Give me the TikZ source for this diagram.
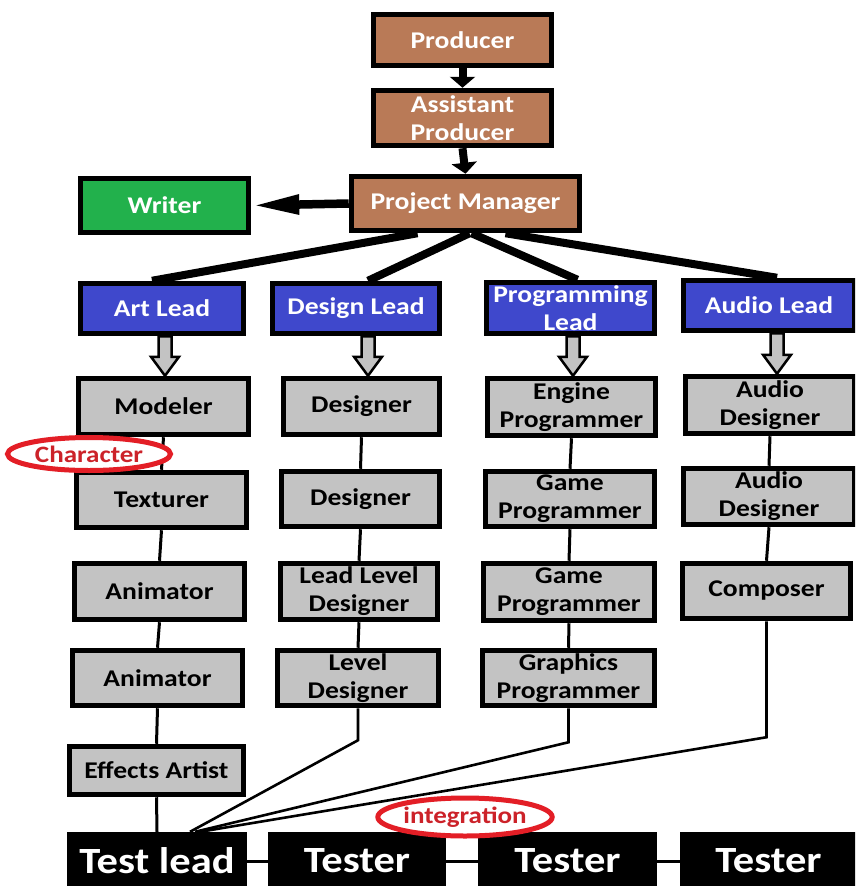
\documentclass[tikz,border=0pt]{standalone}
\usepackage{fontspec}
\setmainfont{Carlito}[FakeStretch=1.15]
\usetikzlibrary{arrows.meta,shapes.geometric,backgrounds,calc}

\definecolor{mgmtbrown}{HTML}{B97A57}
\definecolor{writergreen}{HTML}{22B14C}
\definecolor{leadblue}{HTML}{3F48CC}
\definecolor{staffgray}{HTML}{C3C3C3}
\definecolor{notered}{HTML}{E31E26}
\definecolor{notetext}{HTML}{CC2229}

% gray block arrow from a lead down to the first member of its team
\newcommand\leadarrow[3]{%
  \draw[blockarrow] let \p1=(#1.south), \p2=(#2.north) in
    (\x2+#3pt-6.5pt,\y1) -- (\x2+#3pt-6.5pt,\y2+19pt) -- (\x2+#3pt-14pt,\y2+19pt)
    -- (\x2+#3pt,\y2) -- (\x2+#3pt+14pt,\y2+19pt) -- (\x2+#3pt+6.5pt,\y2+19pt)
    -- (\x2+#3pt+6.5pt,\y1) -- cycle;}

\begin{document}
\begin{tikzpicture}[x=1pt,y=-1pt,
  sz/.style 2 args={minimum width=#1pt, minimum height=#2pt},
  box/.style={draw=black, line width=5.5pt, align=center, inner sep=0pt,
    font=\fontsize{24}{28}\selectfont\bfseries},
  mgmt/.style={box, fill=mgmtbrown, text=white},
  writerbox/.style={box, fill=writergreen, text=white},
  lead/.style={box, fill=leadblue, text=white},
  staff/.style={box, fill=staffgray, text=black},
  testbox/.style={fill=black, text=white, inner sep=0pt, minimum height=58pt,
    font=\fontsize{37}{40}\selectfont\bfseries},
  note/.style={ellipse, draw=notered, line width=5pt, fill=white, text=notetext,
    inner sep=0pt, font=\fontsize{23.5}{25}\selectfont\bfseries},
  thinlink/.style={line width=3pt},
  difflink/.style={line width=2.6pt},
  fanlink/.style={line width=8pt},
  fatarrow/.style={line width=8pt, -{Triangle[length=11pt,width=25pt]}},
  writerarrow/.style={line width=8.5pt, -{Triangle[length=48pt,width=18pt]}},
  blockarrow/.style={draw=black, fill=staffgray, line width=2.5pt, line join=miter}
]
\useasboundingbox (0,0) rectangle (855,886);
\clip (0,0) rectangle (855,886);

% management
\node[mgmt, sz={178}{51}] (prod) at (462.5,40) {Producer};
\node[mgmt, sz={178}{55}] (ap) at (462.5,118) {Assistant\\Producer};
\node[mgmt, sz={228}{54}] (pm) at (465.5,203.5) {Project Manager};
\node[writerbox, sz={168}{54}] (wr) at (164.5,205.5) {Writer};

% leads
\node[lead, sz={163}{50}] (art) at (162,308.5) {Art Lead};
\node[lead, sz={167}{50}] (des) at (356,308.5) {Design Lead};
\node[lead, sz={168}{51}] (prg) at (570.5,308) {Programming\\Lead};
\node[lead, sz={171}{50}] (aud) at (769,305.5) {Audio Lead};

% art team
\node[staff, sz={170}{56}] (mod) at (163.5,406.5) {Modeler};
\node[staff, sz={170}{55}] (tex) at (161.5,500) {Texturer};
\node[staff, sz={170}{56}] (ani1) at (159.5,591.5) {Animator};
\node[staff, sz={170}{55}] (ani2) at (157.5,678) {Animator};
\node[staff, sz={174}{48}] (fx) at (156.5,770.5) {Effects Artist};

% design team
\node[staff, sz={156}{56}] (dsg1) at (361.5,406.5) {Designer};
\node[staff, sz={158}{55}] (dsg2) at (360.5,499) {Designer};
\node[staff, sz={157}{56}] (lld) at (359,591.5) {Lead Level\\Designer};
\node[staff, sz={161}{55}] (lvl) at (358,678) {Level\\Designer};

% programming team
\node[staff, sz={168}{57}] (eng) at (571.5,407) {Engine\\Programmer};
\node[staff, sz={169}{55}] (gp1) at (570,499) {Game\\Programmer};
\node[staff, sz={171}{57}] (gp2) at (569,592) {Game\\Programmer};
\node[staff, sz={172}{55}] (gfx) at (568.5,678) {Graphics\\Programmer};

% audio team
\node[staff, sz={169}{57}] (ad1) at (770,405) {Audio\\Designer};
\node[staff, sz={171}{56}] (ad2) at (769,496.5) {Audio\\Designer};
\node[staff, sz={168}{55}] (cmp) at (766.5,591) {Composer};

% testing
\node[testbox, minimum width=180pt] (tl) at (157,861) {Test lead};
\node[testbox, minimum width=178pt] (t1) at (357,861) {Tester};
\node[testbox, minimum width=179pt] (t2) at (567.5,861) {Tester};
\node[testbox, minimum width=177pt] (t3) at (768.5,861) {Tester};

\begin{scope}[on background layer]
  \fill[white] (0,0) rectangle (855,886);
  % project manager to the leads
  \draw[fanlink] ($(pm.south)+(-48,0)$) -- ($(art.north)+(-10,0)$);
  \draw[fanlink] ($(pm.south)+(4,0)$) -- ($(des.north)+(12,0)$);
  \draw[fanlink] ($(pm.south)+(6,0)$) -- ($(prg.north)+(7,0)$);
  \draw[fanlink] ($(pm.south)+(40,0)$) -- ($(aud.north)+(8,0)$);
  % leads to their teams
  \leadarrow{art}{mod}{1.5}
  \leadarrow{des}{dsg1}{6.5}
  \leadarrow{prg}{eng}{1.5}
  \leadarrow{aud}{ad1}{7}
  % team chains
  \draw[thinlink] (mod.south) -- (tex.north);
  \draw[thinlink] (tex.south) -- (ani1.north);
  \draw[thinlink] (ani1.south) -- (ani2.north);
  \draw[thinlink] (ani2.south) -- (fx.north);
  \draw[thinlink] (fx.south) -- (tl.north);
  \draw[thinlink] (dsg1.south) -- (dsg2.north);
  \draw[thinlink] (dsg2.south) -- (lld.north);
  \draw[thinlink] (lld.south) -- (lvl.north);
  \draw[thinlink] (eng.south) -- (gp1.north);
  \draw[thinlink] (gp1.south) -- (gp2.north);
  \draw[thinlink] (gp2.south) -- (gfx.north);
  \draw[thinlink] (ad1.south) -- (ad2.north);
  \draw[thinlink] (ad2.south) -- (cmp.north);
  % last members report to the test lead
  \draw[difflink] (lvl.south) -- ++(0,32) -- ($(tl.north)+(33,0)$);
  \draw[difflink] (gfx.south) -- ++(0,34) -- ($(tl.north)+(38,0)$);
  \draw[difflink] (cmp.south) -- ++(0,116) -- ($(tl.north)+(43,0)$);
  % testers in a row
  \draw[thinlink] (tl.east) -- (t1.west);
  \draw[thinlink] (t1.east) -- (t2.west);
  \draw[thinlink] (t2.east) -- (t3.west);
\end{scope}

% chain of command
\draw[fatarrow] (prod.south) -- (ap.north);
\draw[fatarrow] (ap.south) -- (pm.north);
\draw[writerarrow] (pm.west) -- (wr.east);

% notes
\node[note, minimum width=163pt, minimum height=33pt] (charnote) at (89,454) {Character};
\node[note, minimum width=171pt, minimum height=38pt] (intnote) at (465,817) {integration};
\end{tikzpicture}
\end{document}
